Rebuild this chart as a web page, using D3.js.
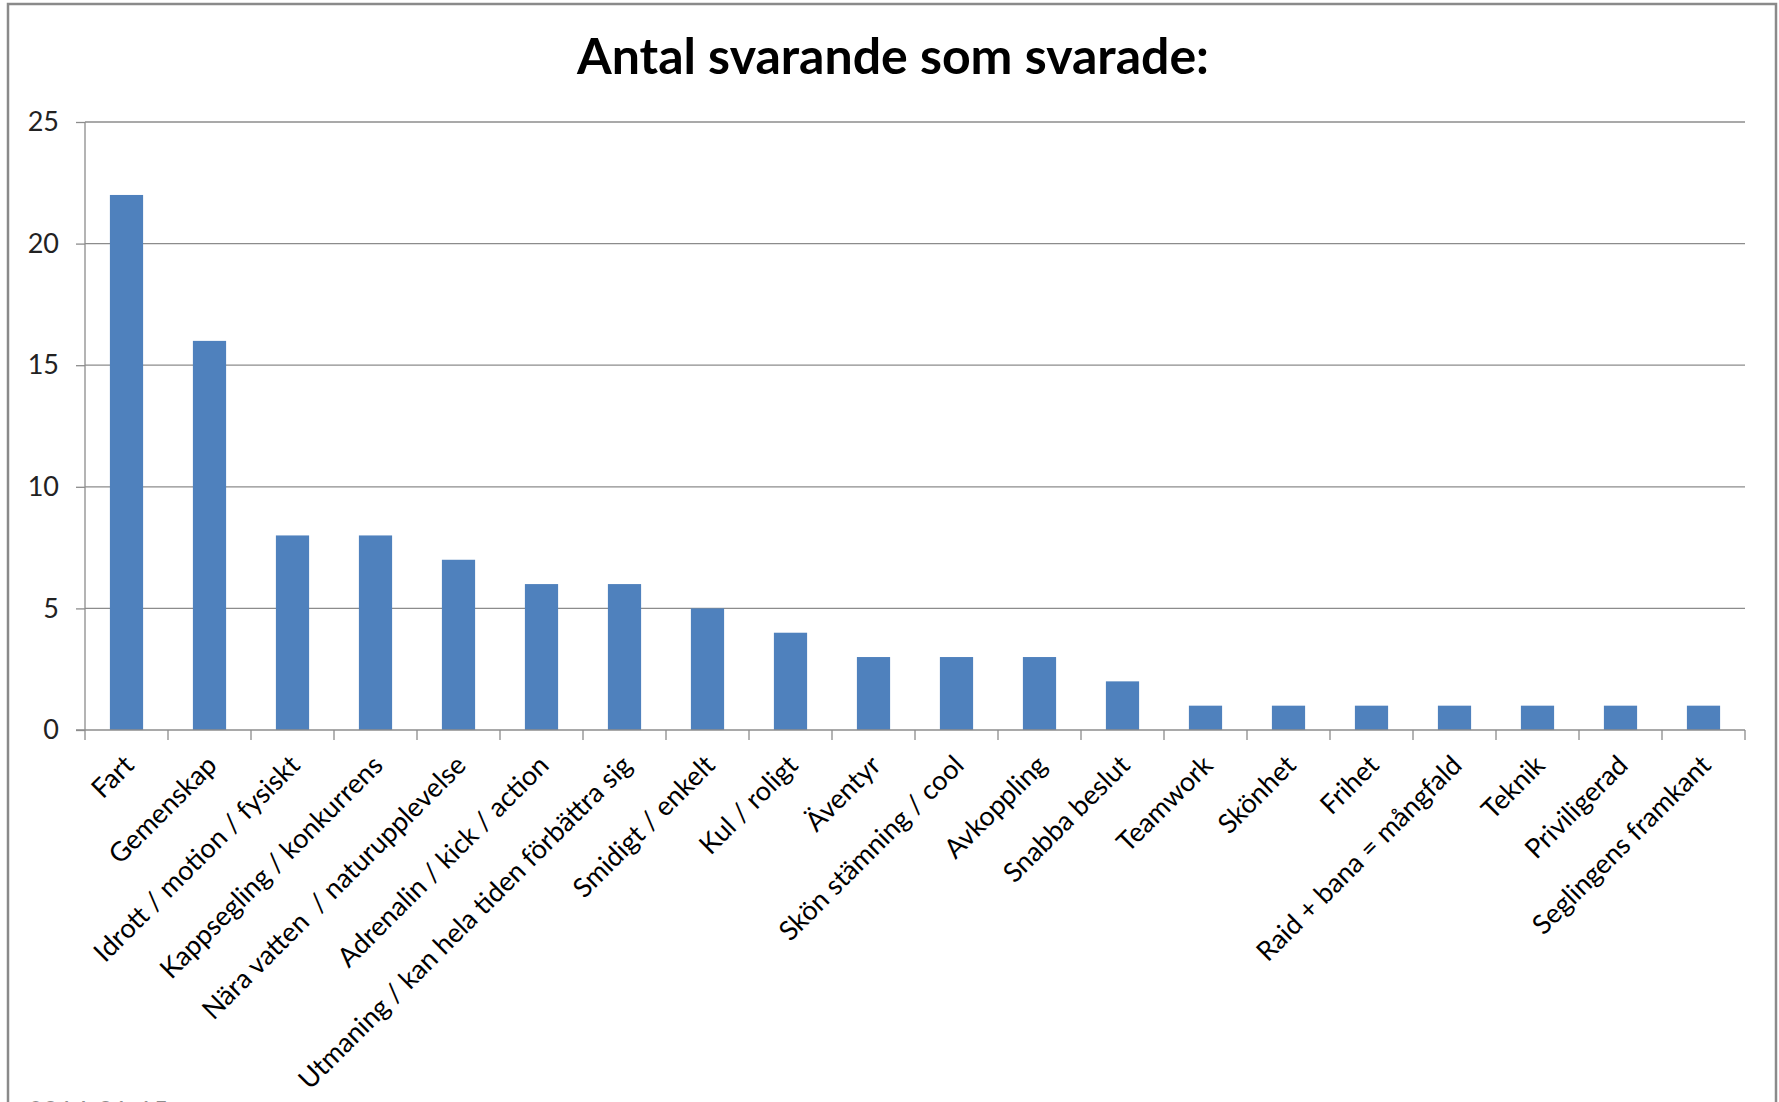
<!DOCTYPE html>
<html>
<head>
<meta charset="utf-8">
<script src="https://cdn.jsdelivr.net/npm/d3@7"></script>
<style>
  html, body { margin: 0; padding: 0; background: #fff; overflow: hidden; }
  svg { display: block; font-family: Lato, "Open Sans", sans-serif; }
  .cat { white-space: pre; }
</style>
</head>
<body>
<svg id="chart"></svg>
<script>
// data
var title = 'Antal svarande som svarade:'
var categories = ['Fart', 'Gemenskap', 'Idrott / motion / fysiskt', 'Kappsegling / konkurrens',
    'Nära vatten  / naturupplevelse', 'Adrenalin / kick / action', 'Utmaning / kan hela tiden förbättra sig',
    'Smidigt / enkelt', 'Kul / roligt', 'Äventyr', 'Skön stämning / cool', 'Avkoppling', 'Snabba beslut',
    'Teamwork', 'Skönhet', 'Frihet', 'Raid + bana = mångfald', 'Teknik', 'Priviligerad', 'Seglingens framkant']
var counts = [22, 16, 8, 8, 7, 6, 6, 5, 4, 3, 3, 3, 2, 1, 1, 1, 1, 1, 1, 1]
var yTicks = [0, 5, 10, 15, 20, 25]
var footer = '2014-01-15'

var width = 1779,
    height = 1102
var plot = {left: 85, right: 1745, top: 122, bottom: 730}

var svg = d3.select('#chart')
    .attr('width', width)
    .attr('height', height)

// slide frame
svg.append('path')
    .attr('d', `M8,${height + 5} V4 H1776 V${height + 5}`)
    .attr('fill', 'none')
    .attr('stroke', '#8a8a8a')
    .attr('stroke-width', 2.5)

svg.append('text')
    .attr('x', 893)
    .attr('y', 74)
    .attr('text-anchor', 'middle')
    .attr('font-size', 50)
    .attr('font-weight', 'bold')
    .attr('fill', '#000')
    .text(title)

var x = d3.scaleBand()
    .domain(categories)
    .range([plot.left, plot.right])
    .paddingInner(0.6)
    .paddingOuter(0.3)

var edges = d3.scaleLinear()
    .domain([0, categories.length])
    .range([plot.left, plot.right])

var y = d3.scaleLinear()
    .domain([0, 25])
    .range([plot.bottom, plot.top])

// gridlines + y axis
var yAxis = svg.append('g')
    .attr('transform', `translate(${plot.left},0)`)
    .call(d3.axisLeft(y)
        .tickValues(yTicks)
        .tickSize(9)
        .tickPadding(17))
yAxis.select('.domain').remove()
yAxis.selectAll('line').attr('stroke', '#8c8c8c').attr('stroke-width', 1.3)
yAxis.selectAll('text')
    .attr('font-size', 27)
    .attr('font-family', 'Lato, sans-serif')
    .attr('fill', '#222')

svg.append('g')
    .selectAll('line')
    .data(yTicks.filter(d => d > 0))
    .join('line')
    .attr('x1', plot.left)
    .attr('x2', plot.right)
    .attr('y1', d => y(d))
    .attr('y2', d => y(d))
    .attr('stroke', '#8c8c8c')
    .attr('stroke-width', 1.3)

svg.append('line')
    .attr('x1', plot.left).attr('x2', plot.left)
    .attr('y1', plot.top).attr('y2', plot.bottom)
    .attr('stroke', '#8c8c8c')
    .attr('stroke-width', 1.3)

// bars
svg.append('g')
    .selectAll('rect')
    .data(categories)
    .join('rect')
    .attr('x', d => x(d))
    .attr('width', x.bandwidth())
    .attr('y', (d, i) => y(counts[i]))
    .attr('height', (d, i) => y(0) - y(counts[i]))
    .attr('fill', '#4f81bd')

// x axis
svg.append('line')
    .attr('x1', plot.left - 9).attr('x2', plot.right)
    .attr('y1', plot.bottom).attr('y2', plot.bottom)
    .attr('stroke', '#8c8c8c')
    .attr('stroke-width', 1.3)

svg.append('g')
    .selectAll('line')
    .data(d3.range(categories.length + 1))
    .join('line')
    .attr('x1', d => edges(d))
    .attr('x2', d => edges(d))
    .attr('y1', plot.bottom)
    .attr('y2', plot.bottom + 10)
    .attr('stroke', '#8c8c8c')
    .attr('stroke-width', 1.3)

svg.append('g')
    .selectAll('text')
    .data(categories)
    .join('text')
    .attr('class', 'cat')
    .attr('transform', d => `translate(${x(d) + x.bandwidth() / 2 + 9},${plot.bottom + 37}) rotate(-45)`)
    .attr('text-anchor', 'end')
    .attr('font-size', 27)
    .attr('fill', '#000')
    .text(d => d)

// footer, cut by the page edge
svg.append('text')
    .attr('x', 28)
    .attr('y', 1121)
    .attr('font-size', 26)
    .attr('fill', '#8c8c8c')
    .text(footer)
</script>
</body>
</html>
